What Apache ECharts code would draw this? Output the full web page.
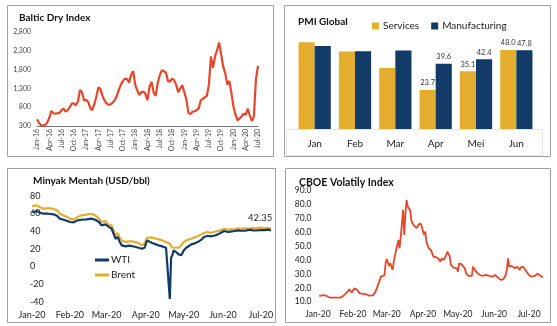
<!DOCTYPE html>
<html>
<head>
<meta charset="utf-8">
<script src="https://cdn.jsdelivr.net/npm/echarts@6/dist/echarts.min.js"></script>
<style>
html,body{margin:0;padding:0;background:#fff;}
#chart{width:557px;height:326px;}
</style>
</head>
<body>
<div id="chart"></div>
<script>
// ---------- DATA ----------
// Baltic Dry Index: semi-monthly readings, Jan-16 .. Jul-20
const bdiMonthNames = ['Jan','Feb','Mar','Apr','May','Jun','Jul','Aug','Sep','Oct','Nov','Dec'];
const bdiYears = ['16','17','18','19','20'];
const bdiValues = [
  480,380,320,310,330,390,520,700,640,630,
  640,650,720,760,680,720,800,900,900,850,
  950,1260,1200,980,1000,940,780,720,880,1080,
  1330,1280,1100,980,900,860,880,920,990,1100,
  1260,1400,1500,1560,1550,1450,1660,1760,1400,1250,
  1120,1200,1220,1150,990,1350,1470,1200,1100,1450,
  1650,1780,1760,1720,1500,1480,1560,1520,1400,1200,
  1300,1380,1200,1000,650,620,680,690,720,760,
  980,1020,1060,1100,1400,2150,1850,2150,2320,2520,
  2200,1880,1700,1400,1500,1180,820,600,450,500,
  560,630,600,760,580,430,560,1550,1900
];
const bdiTicks = [300, 2800, 500]; // min, max, step

// PMI Global
const pmiCategories = ['Jan','Feb','Mar','Apr','Mei','Jun'];
const pmiServices = [52.7, 47.1, 37.0, 23.7, 35.1, 48.0];
const pmiManufacturing = [50.4, 47.2, 47.6, 39.6, 42.4, 47.8];

// Crude oil (day of 2020, Jan 1 = 0)
const wtiDays = [1,2,5,7,10,14,18,21,23,26,29,31,34,37,40,44,48,51,54,56,59,62,64,66,67,69,70,72,75,78,80,83,86,88,90,92,93,96,99,101,104,107,108,110,111,112,113,115,117,119,121,123,124,127,129,132,135,137,140,142,145,148,150,153,156,158,161,164,166,170,173,176,178,181,185,188,190];
const wtiValues = [61.5,63.4,62.6,60.8,59.6,59.6,58.9,57,54,52.8,51.3,50.2,49.8,52.1,52.8,53.2,54,52.8,50.2,46.4,47.5,44.5,42.6,35.1,31.3,33.2,28.7,23.8,22.6,23.4,23,21.9,20.8,20,21,29.4,27.5,26.4,24.9,23.8,22.6,21.1,18.9,-37,10,12.5,18.1,16.2,13.6,12.5,18.1,21.1,22.6,24.9,25.7,27.5,30.2,33.2,34.7,34,34.7,36.2,37.7,40,38.9,39.3,40,40.8,40.3,40.5,41.5,40.8,40.6,41.1,41.1,41.5,40.8];
const brentDays = [1,2,5,7,10,14,18,21,23,26,29,31,34,37,40,44,48,51,54,56,59,62,64,66,67,69,70,72,75,78,80,83,86,88,90,92,93,96,99,101,104,107,110,112,113,117,119,121,123,124,127,129,132,135,137,140,142,145,148,150,153,156,158,161,164,166,170,173,176,178,181,185,188,190];
const brentValues = [68.3,70.2,69,67.2,65.3,66,65,63.4,59.6,57.7,55.8,54,52.8,55.8,57.7,58.5,59.6,57.7,54,50.2,51.3,46.4,46.4,38.9,35.1,37.7,33.2,29.4,27.5,28.3,28.3,27.5,25.7,23.8,25.7,32.5,33.2,32.5,31.3,30.6,29.4,27.5,25.7,21.1,22.6,21.1,23.8,27.5,29.4,30.2,31.3,32.5,34,36.2,37.7,38.9,38,38.9,40,40.8,42.6,41.5,42,41.8,43,42.6,43,42.6,43.4,43,43.8,43.4,43.4,42.6];
const oilEndLabel = '42.35';
const oilTicks = [-40, 80, 20];

// CBOE Volatility Index (day of 2020, Jan 1 = 0)
const vixDays = [2,3,5,8,11,14,17,20,22,25,28,30,32,34,37,40,42,45,48,50,52,55,58,59,60,62,63,65,66,68,70,71,72,74,75,76,77,78,80,81,82,84,86,87,89,90,92,93,94,96,98,100,102,104,106,107,109,111,112,114,115,117,120,121,122,124,125,127,128,130,131,133,134,136,138,140,142,145,148,151,153,155,158,160,162,163,164,165,167,168,170,172,174,175,177,178,180,182,184,187,189,191,192,193,194];
const vixValues = [14,13.6,14.8,14.3,13,12.9,12.9,12.9,13.6,16,18.9,16.5,19.6,18.9,16,15.6,15.5,14.3,14.6,16.5,20.8,28,29,37.6,40.7,35.7,37.6,32.8,38.8,47,54.4,48.4,56.8,76,58,73.5,83,78.3,76,68.8,66.4,64,63,65.2,66.4,64,58,60.4,53,48.4,47,42.4,42,41.2,38.8,41,40,43.6,46,42.4,36.4,34.7,34,31.6,37.6,37,35.7,34,30.4,28.5,29,28.5,35.2,32.3,30.4,29.2,28.5,29.2,28.5,28,29.2,27.5,25.6,26,29.2,32.8,41.2,35.2,35.7,35,34,35.2,32.8,34.7,35.2,34,31.6,29.2,28,28.5,30,29.2,30,28,27.5];
const vixTicks = [10, 90, 10];

// month axis labels (day of 2020 where the label sits)
const monthLabelDays = [1,31,60,91,121,152,182];
const monthLabels = ['Jan-20','Feb-20','Mar-20','Apr-20','May-20','Jun-20','Jul-20'];

// ---------- BUILD ----------
const bdiCategories = [];
bdiYears.forEach(y => bdiMonthNames.forEach(m => { bdiCategories.push(m + '-' + y); bdiCategories.push(m + '-' + y + ' ·'); }));
bdiCategories.length = bdiValues.length;

const FONT = 'Lato';
const RED = '#E8462A', GOLD = '#E4AD2D', NAVY = '#133B68';

const monthFmt = v => { const k = monthLabelDays.indexOf(v); return k >= 0 ? monthLabels[k] : ''; };

const panelStroke = '#a0a0a0';
const option = {
  animation: false,
  textStyle: { fontFamily: FONT },
  graphic: [
    { type: 'rect', silent: true, z: 0, shape: { x: 7.5, y: 5.5, width: 266, height: 151 }, style: { fill: 'none', stroke: panelStroke, lineWidth: 1 } },
    { type: 'rect', silent: true, z: 0, shape: { x: 284.5, y: 5.5, width: 266, height: 151 }, style: { fill: 'none', stroke: panelStroke, lineWidth: 1 } },
    { type: 'rect', silent: true, z: 0, shape: { x: 7.5, y: 168.5, width: 268, height: 154 }, style: { fill: 'none', stroke: panelStroke, lineWidth: 1 } },
    { type: 'rect', silent: true, z: 0, shape: { x: 285.5, y: 168.5, width: 265, height: 154 }, style: { fill: 'none', stroke: panelStroke, lineWidth: 1 } },
    { type: 'rect', silent: true, z: 0, shape: { x: 286.5, y: 129.5, width: 256, height: 26 }, style: { fill: 'none', stroke: '#e4e4e4', lineWidth: 1 } }
  ],
  title: [
    { text: 'Baltic Dry Index', left: 14, top: 8, textStyle: { fontFamily: FONT, fontWeight: 'bold', fontSize: 10, color: '#111' } },
    { text: 'PMI Global', left: 293, top: 12, textStyle: { fontFamily: FONT, fontWeight: 'bold', fontSize: 10, color: '#111' } },
    { text: 'Minyak Mentah (USD/bbl)', left: 28, top: 171, textStyle: { fontFamily: FONT, fontWeight: 'bold', fontSize: 10, color: '#111' } },
    { text: 'CBOE Volatily Index', left: 294, top: 172, textStyle: { fontFamily: FONT, fontWeight: 'bold', fontSize: 10.5, color: '#111' } }
  ],
  legend: [
    { data: ['Services', 'Manufacturing'], left: 367, top: 16, itemWidth: 7, itemHeight: 7, itemGap: 12, icon: 'rect',
      textStyle: { fontFamily: FONT, fontSize: 10, color: '#222', padding: [0,0,0,-1] } },
    { data: ['WTI', 'Brent'], left: 90, top: 249, orient: 'vertical', itemWidth: 14, itemHeight: 3, itemGap: 3, icon: 'rect',
      textStyle: { fontFamily: FONT, fontSize: 10, color: '#222', lineHeight: 12, padding: [0,0,0,-3] } }
  ],
  grid: [
    { left: 37, top: 32, width: 221, height: 94 },
    { left: 294.5, top: 30.2, width: 242, height: 98.8 },
    { left: 32, top: 195.7, width: 239, height: 106 },
    { left: 318, top: 190.4, width: 225, height: 111.3 }
  ],
  xAxis: [
    { gridIndex: 0, type: 'category', data: bdiCategories, boundaryGap: false,
      axisLine: { lineStyle: { color: '#777', width: 1 } }, axisTick: { show: false },
      axisLabel: { interval: i => i % 6 === 0, rotate: 90, fontSize: 7, color: '#444', margin: 3, fontFamily: FONT,
        formatter: v => v.replace(' ·', '') } },
    { gridIndex: 1, type: 'category', data: pmiCategories,
      axisLine: { lineStyle: { color: '#e4e4e4' } }, axisTick: { show: false },
      axisLabel: { fontSize: 10, color: '#222', margin: 10, fontFamily: FONT } },
    { gridIndex: 2, type: 'value', min: 1, max: 190,
      axisLine: { show: false }, axisTick: { show: false }, splitLine: { show: false },
      axisLabel: { customValues: monthLabelDays, formatter: monthFmt, fontSize: 9, color: '#222', margin: 9, fontFamily: FONT } },
    { gridIndex: 3, type: 'value', min: 1, max: 194,
      axisLine: { show: false }, axisTick: { show: false }, splitLine: { show: false },
      axisLabel: { customValues: monthLabelDays, formatter: monthFmt, fontSize: 8.5, color: '#222', margin: 8, fontFamily: FONT } }
  ],
  yAxis: [
    { gridIndex: 0, type: 'value', min: bdiTicks[0], max: bdiTicks[1], interval: bdiTicks[2],
      axisLine: { show: false }, axisTick: { show: false }, splitLine: { show: false },
      axisLabel: { fontSize: 7, color: '#444', margin: 6, fontFamily: FONT, formatter: v => v.toLocaleString('en-US') } },
    { gridIndex: 1, type: 'value', min: 0, max: 60, show: false, splitLine: { show: false } },
    { gridIndex: 2, type: 'value', min: oilTicks[0], max: oilTicks[1], interval: oilTicks[2],
      axisLine: { show: false }, axisTick: { show: false }, splitLine: { show: false },
      axisLabel: { fontSize: 9, color: '#222', margin: 2, align: 'left', fontFamily: FONT } },
    { gridIndex: 3, type: 'value', min: vixTicks[0], max: vixTicks[1], interval: vixTicks[2],
      axisLine: { show: false }, axisTick: { show: false }, splitLine: { show: false },
      axisLabel: { fontSize: 8.5, color: '#222', margin: 23.3, align: 'left', fontFamily: FONT, formatter: v => v.toFixed(1) } }
  ],
  series: [
    { type: 'line', name: 'BDI', xAxisIndex: 0, yAxisIndex: 0, data: bdiValues, showSymbol: false,
      lineStyle: { color: RED, width: 2.2 }, itemStyle: { color: RED } },
    { type: 'bar', name: 'Services', xAxisIndex: 1, yAxisIndex: 1, data: pmiServices, barGap: '0%', barCategoryGap: '20%',
      itemStyle: { color: GOLD },
      label: { show: true, position: 'top', distance: 3, fontSize: 7.5, color: '#333', fontFamily: FONT,
        formatter: p => p.dataIndex >= 3 ? p.value.toFixed(1) : '' } },
    { type: 'bar', name: 'Manufacturing', xAxisIndex: 1, yAxisIndex: 1, data: pmiManufacturing, barGap: '0%', barCategoryGap: '20%',
      itemStyle: { color: NAVY },
      label: { show: true, position: 'top', distance: 3, fontSize: 7.5, color: '#333', fontFamily: FONT,
        formatter: p => p.dataIndex >= 3 ? p.value.toFixed(1) : '' } },
    { type: 'line', name: 'WTI', xAxisIndex: 2, yAxisIndex: 2, data: wtiDays.map((d, i) => [d, wtiValues[i]]), showSymbol: false, z: 3,
      lineStyle: { color: NAVY, width: 2.2 }, itemStyle: { color: NAVY } },
    { type: 'line', name: 'Brent', xAxisIndex: 2, yAxisIndex: 2, data: brentDays.map((d, i) => [d, brentValues[i]]), showSymbol: false, z: 2,
      lineStyle: { color: GOLD, width: 2.2 }, itemStyle: { color: GOLD },
      endLabel: { show: true, formatter: oilEndLabel, offset: [-31, -11], color: '#222', fontSize: 9.5, fontFamily: FONT } },
    { type: 'line', name: 'VIX', xAxisIndex: 3, yAxisIndex: 3, data: vixDays.map((d, i) => [d, vixValues[i]]), showSymbol: false,
      lineStyle: { color: RED, width: 1.8 }, itemStyle: { color: RED } }
  ]
};

const chart = echarts.init(document.getElementById('chart'), null, { renderer: 'canvas' });
chart.setOption(option);
</script>
</body>
</html>
